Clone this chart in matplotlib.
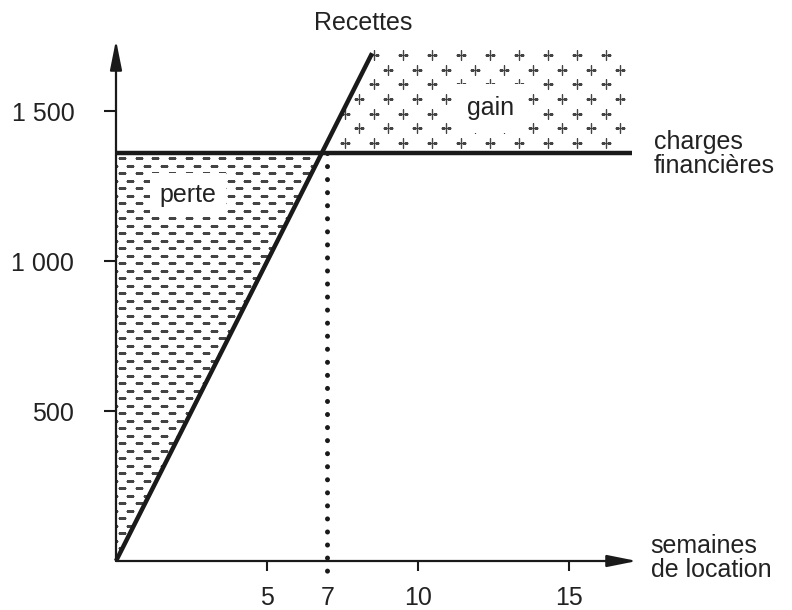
import numpy as np
import matplotlib
matplotlib.use("Agg")
import matplotlib.pyplot as plt
from matplotlib.patches import Polygon

plt.rcParams['font.family'] = ['Liberation Sans', 'DejaVu Sans']

# values
weeks = [0, 8.48]
recettes = [0, 1693]          # about 200 per week of rent
charges = 1360                # fixed costs
charges_weeks = [0, 17.1]
seuil = 7                     # break-even, weeks
seuil_cross = 6.8             # where the two lines meet
gain_top = 1705
x_ticks = [5, 10, 15]
y_ticks = [500, 1000, 1500]
y_labels = ['500', '1 000', '1 500']

fig = plt.figure(figsize=(7.92, 6.10), dpi=100)
ax = fig.add_axes([116 / 792, 49 / 610, 521 / 792, 521 / 610])
ax.set_xlim(0, 17.25)
ax.set_ylim(0, 1737)
for s in ax.spines.values():
    s.set_visible(False)

ink = '#1a1a1a'

# axes with arrows
arrow = dict(arrowstyle='-|>,head_length=0.9,head_width=0.18', color=ink,
             lw=1.6, shrinkA=0, shrinkB=0, mutation_scale=20)
ax.annotate('', xy=(17.25, 0), xytext=(0, 0), arrowprops=arrow, annotation_clip=False)
ax.annotate('', xy=(0, 1737), xytext=(0, 0), arrowprops=arrow, annotation_clip=False)

# loss area (dashes)
perte_poly = Polygon([(0, 0), (0, charges), (seuil_cross, charges)], closed=True,
                     fill=False, lw=0)
ax.add_patch(perte_poly)
dy, dx = 25, 0.553
px, py = [], []
for j, yy in enumerate(np.arange(charges - 17, 0, -dy)):
    off = 0.2 if j % 2 == 0 else 0.2 + dx / 2
    for xx in np.arange(off - dx, seuil_cross + dx, dx):
        px.append(xx)
        py.append(yy)
dash_line, = ax.plot(px, py, ls='none', marker='_', ms=5.5, mew=0.8, color='#444444', zorder=1)
dash_line.set_clip_path(perte_poly)

# gain area (pluses)
gain_poly = Polygon([(seuil_cross, charges), (seuil_cross + (gain_top - charges) / 200, gain_top),
                     (charges_weeks[1], gain_top), (charges_weeks[1], charges)],
                    closed=True, fill=False, lw=0)
ax.add_patch(gain_poly)
gx, gy = [], []
for j, yy in enumerate(np.arange(charges + 33, gain_top, 49)):
    off = 0.86 if j % 2 == 0 else 0.86 + 0.48
    for xx in np.arange(off, charges_weeks[1], 0.96):
        gx.append(xx)
        gy.append(yy)
plus_line, = ax.plot(gx, gy, ls='none', marker='+', ms=7, mew=1.0, color='#444444', zorder=1)
plus_line.set_clip_path(gain_poly)

# lines
ax.plot(weeks, recettes, color=ink, lw=3.2, solid_capstyle='butt', zorder=3, clip_on=False)
ax.plot(charges_weeks, [charges, charges], color=ink, lw=3.2, solid_capstyle='butt', zorder=3)
ax.plot([seuil, seuil], [charges, -48], color=ink, lw=3.6, linestyle=(0, (0.01, 2.6)),
        dash_capstyle='round', zorder=2, clip_on=False)

# ticks
ax.set_xticks(x_ticks)
ax.set_xticklabels([str(t) for t in x_ticks])
ax.set_xticks([seuil], labels=[str(seuil)], minor=True)
ax.set_yticks(y_ticks)
ax.set_yticklabels(y_labels)
ax.tick_params(axis='x', which='major', length=7, width=1.5, pad=11, labelsize=18,
               color=ink, labelcolor='#222222')
ax.tick_params(axis='x', which='minor', length=0, pad=18, labelsize=18, labelcolor='#222222')
ax.tick_params(axis='y', length=9, width=1.5, pad=21, labelsize=18,
               color=ink, labelcolor='#222222')

# texts
txt = dict(fontsize=18, color='#222222')
ax.text(8.18, 1793, 'Recettes', ha='center', va='center', clip_on=False, **txt)
ax.text(17.8, 1357, 'charges\nfinancières', ha='left', va='center', linespacing=1.0,
        clip_on=False, **txt)
ax.text(17.7, 10, 'semaines\nde location', ha='left', va='center', linespacing=0.95,
        clip_on=False, **txt)
ax.text(2.38, 1220, 'perte', ha='center', va='center', zorder=4,
        bbox=dict(facecolor='white', edgecolor='none', pad=7), **txt)
ax.text(12.4, 1510, 'gain', ha='center', va='center', zorder=4,
        bbox=dict(facecolor='white', edgecolor='none', pad=9), **txt)

fig.savefig('out.png', dpi=100)
